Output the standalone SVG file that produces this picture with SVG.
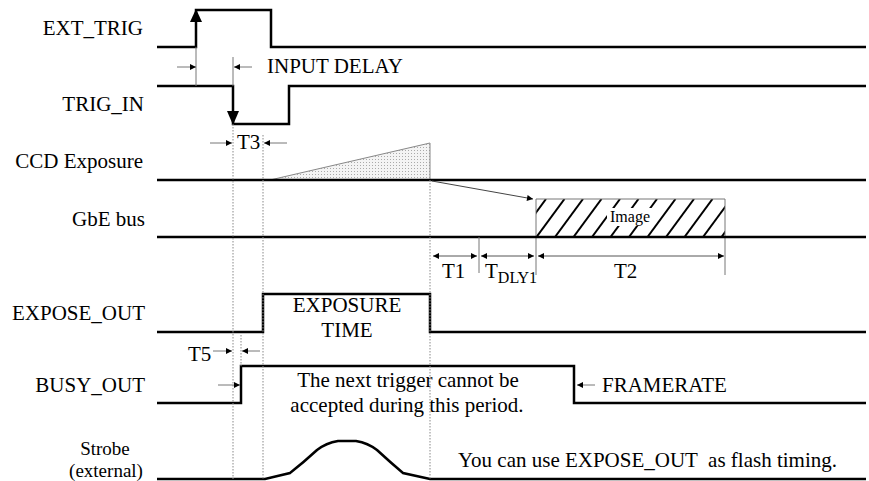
<svg xmlns="http://www.w3.org/2000/svg" width="869" height="481" viewBox="0 0 869 481">
<style>
text{font-family:"Liberation Serif","Times New Roman",serif;font-size:21px;fill:#000}
.lbl{text-anchor:end}
.mid{text-anchor:middle}
.sig{fill:none;stroke:#000;stroke-width:2.5;stroke-linejoin:miter}
.thin{fill:none;stroke:#777;stroke-width:1}
.dot{fill:none;stroke:#888;stroke-width:1;stroke-dasharray:1.5 1.5}
.hatch{stroke:#000;stroke-width:2}
.arr{fill:none;stroke:#777;stroke-width:1;marker-end:url(#ah)}
.darr{fill:none;stroke:#555;stroke-width:1;marker-start:url(#ahs);marker-end:url(#ah)}
</style>
<defs>
<marker id="ah" viewBox="0 0 10 10" refX="10" refY="5" markerWidth="7" markerHeight="6" markerUnits="userSpaceOnUse" orient="auto">
<path d="M0,0 L10,5 L0,10 z" fill="#000"/>
</marker>
<marker id="ahs" viewBox="0 0 10 10" refX="0" refY="5" markerWidth="7" markerHeight="6" markerUnits="userSpaceOnUse" orient="auto">
<path d="M10,0 L0,5 L10,10 z" fill="#000"/>
</marker>
<pattern id="stip" width="3" height="3" patternUnits="userSpaceOnUse">
<rect width="3" height="3" fill="#f4f4f4"/>
<rect x="0" y="0" width="1" height="1" fill="#aaa"/>
</pattern>
<clipPath id="imgclip"><rect x="536" y="199" width="189" height="38"/></clipPath>
</defs>
<rect width="869" height="481" fill="#fff"/>

<g id="ext_trig">
<text class="lbl" x="143" y="35">EXT_TRIG</text>
<polyline class="sig" points="157,47 196,47 196,20 196,10 271,10 271,47 866,47"/>
<polygon points="196,9 190,22 202,22" fill="#000"/>
</g>

<g id="trig_in">
<text class="lbl" x="144" y="111">TRIG_IN</text>
<polyline class="sig" points="157,86 233,86 233,124 289,124 289,86 866,86"/>
<polygon points="233,125 227,111 239,111" fill="#000"/>
</g>

<g id="ccd_exposure">
<text class="lbl" x="143" y="168">CCD Exposure</text>
<polygon points="270,180 430,143 430,180" fill="url(#stip)" stroke="#888" stroke-width="1"/>
<line class="sig" x1="157" y1="180" x2="866" y2="180"/>
</g>

<g id="gbe_bus">
<text class="lbl" x="145" y="226">GbE bus</text>
<g clip-path="url(#imgclip)">
<line class="hatch" x1="518" y1="237" x2="546" y2="199"/>
<line class="hatch" x1="536.5" y1="237" x2="564.5" y2="199"/>
<line class="hatch" x1="555" y1="237" x2="583" y2="199"/>
<line class="hatch" x1="573.5" y1="237" x2="601.5" y2="199"/>
<line class="hatch" x1="592" y1="237" x2="620" y2="199"/>
<line class="hatch" x1="610.5" y1="237" x2="638.5" y2="199"/>
<line class="hatch" x1="629" y1="237" x2="657" y2="199"/>
<line class="hatch" x1="647.5" y1="237" x2="675.5" y2="199"/>
<line class="hatch" x1="666" y1="237" x2="694" y2="199"/>
<line class="hatch" x1="684.5" y1="237" x2="712.5" y2="199"/>
<line class="hatch" x1="703" y1="237" x2="731" y2="199"/>
<line class="hatch" x1="721.5" y1="237" x2="749.5" y2="199"/>
</g>
<rect x="607" y="208" width="45" height="18" fill="#fff"/>
<polyline class="thin" points="536,275 536,199 725,199 725,275"/>
<text class="mid" x="630" y="222" style="font-size:16px">Image</text>
<line class="sig" x1="157" y1="237" x2="866" y2="237"/>
</g>

<g id="expose_out">
<text class="lbl" x="145" y="320">EXPOSE_OUT</text>
<polyline class="sig" points="157,332 263,332 263,294 430,294 430,332 866,332"/>
<text class="mid" x="347" y="312">EXPOSURE</text>
<text class="mid" x="347" y="337">TIME</text>
</g>

<g id="busy_out">
<text class="lbl" x="145" y="392">BUSY_OUT</text>
<polyline class="sig" points="157,403 241,403 241,366 574,366 574,403 866,403"/>
<text class="mid" x="408" y="387">The next trigger cannot be</text>
<text class="mid" x="407" y="412">accepted during this period.</text>
<text x="602" y="392">FRAMERATE</text>
</g>

<g id="strobe">
<text class="mid" x="105" y="455" style="font-size:19px">Strobe</text>
<text class="mid" x="106" y="477" style="font-size:19px">(external)</text>
<path class="sig" d="M157,479 L265,479 L290,473 Q304,462 317,450 Q326,443 338,441 L356,441 Q368,443 377,450 Q390,462 403,473 L430,479 L866,479" stroke-linejoin="round"/>
<text x="458" y="467" style="white-space:pre">You can use EXPOSE_OUT  as flash timing.</text>
</g>

<g id="connectors">
<line class="thin" x1="196" y1="47" x2="196" y2="86"/>
<line class="thin" x1="233" y1="57" x2="233" y2="86"/>
<line class="arr" x1="177" y1="67" x2="196" y2="67"/>
<line class="arr" x1="252" y1="67" x2="234" y2="67"/>
<text x="267" y="73">INPUT DELAY</text>

<line class="dot" x1="233" y1="124" x2="233" y2="479"/>
<line class="dot" x1="263" y1="135" x2="263" y2="479"/>
<line class="dot" x1="430" y1="180" x2="430" y2="479"/>
<line class="dot" x1="241" y1="335" x2="241" y2="366"/>
<line class="arr" x1="210" y1="143" x2="232" y2="143"/>
<line class="arr" x1="287" y1="143" x2="264" y2="143"/>
<text x="237" y="149">T3</text>

<line x1="432" y1="181" x2="533" y2="199" stroke="#444" stroke-width="1" marker-end="url(#ah)"/>

<line class="thin" x1="479" y1="237" x2="479" y2="273"/>
<line class="darr" x1="433" y1="256" x2="477" y2="256"/>
<line class="darr" x1="481" y1="256" x2="534" y2="256"/>
<line class="darr" x1="538" y1="256" x2="724" y2="256"/>
<text x="442" y="278">T1</text>
<text x="485" y="278">T<tspan dy="5" style="font-size:16px">DLY1</tspan></text>
<text x="614" y="278">T2</text>

<line class="arr" x1="213" y1="351" x2="232" y2="351"/>
<line class="arr" x1="260" y1="351" x2="242" y2="351"/>
<text x="188" y="361">T5</text>
<line class="arr" x1="218" y1="385" x2="240" y2="385"/>
<line class="arr" x1="595" y1="385" x2="577" y2="385"/>
</g>
</svg>
